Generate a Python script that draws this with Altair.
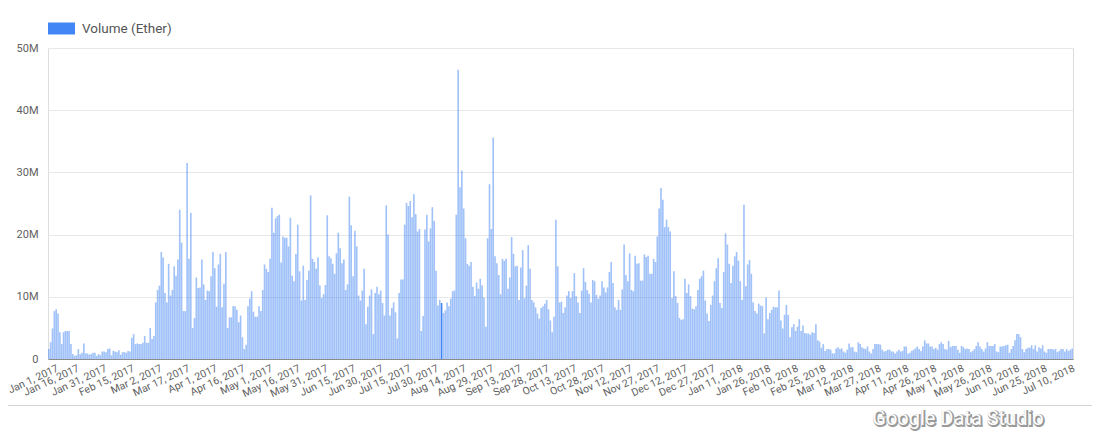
import datetime as dt
import altair as alt
import pandas as pd

# Daily trading volume (millions of Ether)
jan17 = [1.6, 2.7, 4.9, 7.7, 8.0, 7.3, 4.3, 2.4, 4.3, 4.5, 4.5, 4.5, 2.4, 0.8, 0.5, 0.6, 1.6, 0.75, 1.0, 2.5,
         0.9, 0.9, 0.7, 0.8, 1.0, 1.0, 0.5, 0.8, 0.6, 1.2, 1.2]
feb17 = [1.1, 1.6, 1.7, 0.6, 1.3, 1.2, 1.1, 1.4, 0.7, 1.1, 1.1, 1.0, 1.3, 1.2, 3.4, 4.0, 2.4, 2.5, 2.4, 2.4,
         2.6, 3.7, 2.6, 2.6, 5.0, 3.2, 3.7, 9.1]
mar17 = [11.1, 11.8, 17.2, 16.3, 10.6, 9.1, 15.3, 10.2, 11.1, 14.9, 13.4, 16.0, 24.0, 18.7, 7.7, 7.7, 31.5,
         16.1, 23.5, 5.0, 6.6, 13.1, 11.4, 11.5, 16.0, 12.0, 9.5, 11.0, 10.9, 13.3, 17.2]
apr17 = [14.6, 8.4, 15.2, 16.9, 8.3, 12.1, 17.2, 5.0, 6.7, 6.7, 8.5, 8.5, 7.9, 5.9, 7.0, 3.5, 1.6, 2.3, 8.5,
         9.7, 10.9, 7.6, 6.8, 6.8, 8.5, 7.7, 11.1, 15.2, 14.5, 14.0]
may17 = [16.1, 24.3, 20.3, 22.6, 23.0, 23.2, 15.5, 19.7, 19.5, 19.5, 18.1, 22.7, 13.4, 12.5, 16.9, 21.6, 14.1,
         9.4, 15.0, 9.5, 12.7, 14.2, 26.3, 16.1, 15.6, 14.5, 16.3, 11.8, 9.8, 10.4, 11.9]
jun17 = [23.1, 16.5, 16.2, 15.3, 13.7, 17.0, 20.3, 17.8, 15.4, 16.0, 11.1, 12.0, 26.1, 21.5, 13.3, 20.6, 18.1,
         10.2, 9.4, 11.0, 14.5, 5.6, 8.4, 10.2, 11.2, 4.0, 10.6, 11.6, 10.4, 11.0]
jul17 = [9.0, 7.0, 24.7, 20.0, 7.0, 8.2, 9.1, 7.5, 3.3, 10.6, 12.8, 12.8, 21.6, 25.1, 24.6, 25.4, 22.8, 26.5,
         23.3, 20.5, 20.9, 4.5, 6.9, 20.8, 23.2, 18.9, 21.0, 24.4, 22.2, 14.2, 8.6]
aug17 = [9.5, 9.0, 7.4, 7.8, 9.1, 8.5, 9.7, 10.9, 11.0, 23.2, 46.5, 27.6, 30.3, 24.2, 19.4, 15.3, 15.0, 15.6,
         11.6, 10.1, 12.3, 11.3, 12.9, 11.8, 9.9, 5.2, 19.4, 28.1, 20.9, 35.6, 16.5]
sep17 = [15.4, 13.5, 10.4, 16.1, 15.8, 16.1, 11.3, 13.1, 19.6, 16.9, 14.9, 15.0, 9.5, 14.7, 17.5, 9.8, 11.8,
         18.3, 14.5, 9.5, 9.1, 8.3, 7.3, 6.5, 8.2, 8.5, 8.9, 9.5, 8.0, 6.2]
oct17 = [4.3, 6.8, 22.4, 14.9, 9.1, 9.2, 7.4, 8.3, 10.2, 10.9, 9.8, 10.9, 13.8, 10.1, 9.1, 7.4, 11.0, 14.6,
         12.4, 11.1, 10.5, 9.1, 12.7, 12.5, 10.3, 9.7, 10.2, 12.5, 11.5, 10.7, 11.5]
nov17 = [14.0, 15.6, 12.2, 8.3, 7.9, 9.5, 7.9, 11.2, 18.4, 13.5, 12.5, 17.0, 11.1, 10.9, 16.6, 15.3, 15.4,
         12.6, 12.6, 16.8, 16.4, 16.6, 13.7, 13.7, 16.1, 15.6, 19.7, 24.2, 27.5, 25.6]
dec17 = [21.2, 22.4, 21.2, 20.5, 9.8, 14.1, 10.1, 9.0, 6.6, 6.3, 6.4, 12.9, 10.6, 12.0, 10.1, 8.1, 8.0, 8.5,
         11.1, 12.9, 13.3, 14.2, 9.4, 7.3, 6.1, 8.7, 10.2, 12.5, 14.6, 16.2, 9.0]
jan18 = [8.2, 14.0, 20.2, 18.4, 15.3, 12.2, 15.0, 16.5, 17.2, 15.8, 12.5, 9.5, 24.8, 11.7, 15.2, 15.9, 13.7,
         9.1, 7.7, 7.3, 8.9, 8.6, 8.5, 4.1, 9.9, 6.4, 7.4, 7.9, 8.4, 8.3, 8.3]
feb18 = [11.0, 6.2, 4.9, 7.1, 8.7, 7.1, 3.5, 5.1, 5.6, 4.5, 5.2, 6.4, 4.5, 5.4, 4.2, 4.1, 4.1, 3.9, 4.3, 4.2,
         5.6, 3.0, 2.8, 1.8, 2.4, 1.3, 1.6, 1.6]
mar18 = [1.5, 0.9, 0.9, 1.7, 1.9, 1.6, 1.7, 1.2, 1.0, 1.5, 2.5, 1.9, 1.9, 1.2, 1.1, 2.7, 2.4, 1.9, 1.7, 1.6,
         2.0, 1.2, 0.9, 1.6, 2.4, 2.4, 2.4, 2.3, 1.5, 1.2, 1.3]
apr18 = [1.5, 1.5, 1.2, 1.2, 0.9, 1.2, 1.5, 1.2, 1.3, 2.0, 2.0, 0.9, 1.0, 1.3, 1.5, 1.7, 2.0, 1.6, 1.3, 2.0,
         3.0, 2.5, 2.5, 2.0, 2.0, 1.6, 1.8, 1.5, 2.4, 2.7]
may18 = [2.4, 1.6, 1.5, 2.9, 1.9, 2.1, 2.1, 2.1, 1.5, 1.0, 2.1, 1.9, 1.6, 1.7, 1.6, 1.1, 1.3, 1.6, 2.1, 2.7,
         2.0, 1.6, 1.2, 1.7, 2.7, 2.1, 2.1, 2.1, 2.4, 1.2, 1.1]
jun18 = [2.0, 2.0, 2.1, 2.2, 2.3, 1.0, 1.6, 2.1, 3.0, 4.0, 4.0, 3.5, 1.6, 1.1, 1.6, 1.8, 1.8, 2.2, 1.6, 2.2,
         1.2, 1.9, 1.7, 2.2, 1.2, 1.0, 1.6, 1.6, 1.6, 1.5]
jul18 = [1.6, 1.1, 1.3, 1.6, 1.6, 1.2, 1.6, 1.3, 1.5, 1.7]

months = [jan17, feb17, mar17, apr17, may17, jun17, jul17, aug17, sep17, oct17, nov17, dec17,
          jan18, feb18, mar18, apr18, may18, jun18, jul18]
volume_m = [v for m in months for v in m]

series_name = "Volume (Ether)"
highlighted_day = "Aug 2, 2017"
y_ticks = [0, 10e6, 20e6, 30e6, 40e6, 50e6]

start = dt.date(2017, 1, 1)
dates = [start + dt.timedelta(days=i) for i in range(len(volume_m))]
date_labels = [f"{d.strftime('%b')} {d.day}, {d.year}" for d in dates]
tick_labels = date_labels[::15]

df = pd.DataFrame({
    "date": date_labels,
    "volume": [v * 1e6 for v in volume_m],
    "series": series_name,
    "hl": [1 if s == highlighted_day else 0 for s in date_labels],
})

FONT = "Roboto"
first_label_test = f"datum.value == '{tick_labels[0]}'"

bars = alt.Chart(df).mark_bar().encode(
    x=alt.X(
        "date:O", sort=None,
        scale=alt.Scale(paddingInner=0.12, paddingOuter=0),
        axis=alt.Axis(values=tick_labels, labelAngle=-25, title=None, ticks=False,
                      domain=True, domainColor="#8c8c8c", domainWidth=1,
                      labelFont=FONT, labelFontSize=10.5, labelColor="#616161",
                      labelOffset={"condition": {"test": first_label_test, "value": 7}, "value": 0},
                      labelPadding=4, grid=False, labelOverlap=False),
    ),
    y=alt.Y(
        "volume:Q",
        scale=alt.Scale(domain=[0, 50e6], nice=False),
        axis=alt.Axis(values=y_ticks, title=None, ticks=False, domain=False,
                      labelExpr="datum.value == 0 ? '0' : format(datum.value, '~s')",
                      labelFont=FONT, labelFontSize=11, labelColor="#616161",
                      labelPadding=10, gridColor="#e8e8e8", gridWidth=1),
    ),
    color=alt.Color(
        "series:N",
        scale=alt.Scale(range=["#4285f4"]),
        legend=alt.Legend(title=None, orient="none", legendX=0, legendY=-33,
                          symbolType="M-1,-0.444H1V0.444H-1Z", symbolSize=729,
                          symbolOpacity=1, symbolStrokeWidth=0,
                          labelFont=FONT, labelFontSize=13.5, labelColor="#555555",
                          labelOffset=7, padding=0),
    ),
    opacity=alt.when(alt.datum.hl == 1).then(alt.value(1.0)).otherwise(alt.value(0.5)),
)

one = alt.Data(values=[{"k": 1}])

frame = alt.Chart(one).mark_rect(fillOpacity=0, stroke="#d4d4d4", strokeWidth=1).encode(
    x=alt.value(-60), x2=alt.value(1044.5), y=alt.value(-60), y2=alt.value(357.5)
)

wm_shadow = alt.Chart(one).mark_text(
    text="Google Data Studio", font=FONT, fontSize=20, fill="#9a9a9a", stroke="#9a9a9a",
    strokeWidth=2, align="center", baseline="alphabetic"
).encode(x=alt.value(911), y=alt.value(378))

wm_text = alt.Chart(one).mark_text(
    text="Google Data Studio", font=FONT, fontSize=20, fill="#ffffff",
    align="center", baseline="alphabetic"
).encode(x=alt.value(910), y=alt.value(377))

chart = alt.layer(frame, bars, wm_shadow, wm_text).properties(
    width=1025, height=311,
    padding={"left": 40, "top": 40, "right": 19, "bottom": 74},
    autosize="none",
).configure_view(stroke=None).configure(background="white")

chart.save("out.html", embed_options={"renderer": "svg", "actions": False})
